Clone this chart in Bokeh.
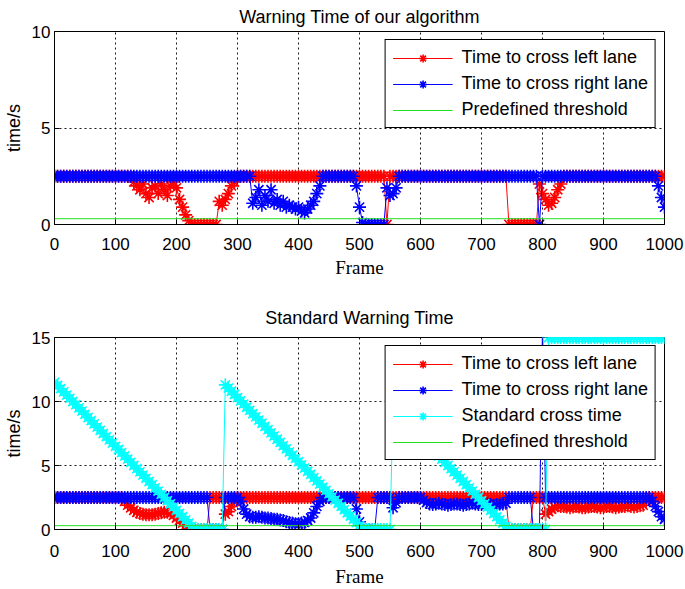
from bokeh.plotting import figure
from bokeh.models import Range1d, FixedTicker, Legend, LegendItem
from bokeh.layouts import column
from bokeh.embed import file_html
from bokeh.resources import INLINE

# ---------------- data ----------------
frames = list(range(0, 1001, 5))
x_ticks = list(range(0, 1001, 100))
top_y_ticks = [0, 5, 10]
bottom_y_ticks = [0, 5, 10, 15]
thr_frames = [0, 1000]
thr_values = [0.3, 0.3]

# Top chart: warning time of our algorithm
top_left = ([2.5] * 26
            + [2.2, 2.0, 1.8, 2.1, 1.6, 1.4, 1.9, 2.0, 1.6, 2.1, 1.8, 1.5, 2.0, 2.2, 1.9]
            + [1.3, 0.9, 0.5, 0.2]
            + [0.0] * 9
            + [1.2, 1.0, 1.3, 1.6, 2.0, 2.2]
            + [2.5] * 49
            + [0.0]
            + [2.5] * 39
            + [0.0] * 10
            + [2.1, 1.6, 1.3, 1.0, 1.1, 1.4, 1.8, 2.1]
            + [2.5] * 34)

top_right = ([2.5] * 65
             + [1.1, 1.4, 1.8, 1.0, 1.5, 1.2, 1.8, 1.1, 1.3, 1.0, 1.2, 0.9, 1.0, 0.9, 0.8,
                0.9, 0.7, 0.6, 0.8, 1.0, 1.2, 1.6, 2.0]
             + [2.5] * 11
             + [2.0, 0.9, 0.1]
             + [0.0] * 7
             + [1.9, 1.5, 1.6, 1.9]
             + [2.5] * 46
             + [0.0]
             + [2.5] * 38
             + [2.0, 1.4, 0.9])

# Bottom chart: standard warning time
bot_left = ([2.5] * 23
            + [2.2, 1.9, 1.7, 1.5, 1.35, 1.25, 1.2, 1.15, 1.15, 1.15, 1.2, 1.25, 1.3, 1.35, 1.35,
               1.3, 1.1, 0.9, 0.7, 0.5, 0.3, 0.1]
            + [0.0] * 6
            + [2.5] * 5
            + [1.2, 1.4, 1.8, 2.2]
            + [2.5] * 89
            + [0.0] * 8
            + [2.5] * 4
            + [1.2, 1.4, 1.6, 1.75, 1.85]
            + [1.8, 1.8, 1.75, 1.7, 1.75, 1.8, 1.75, 1.7, 1.7, 1.75, 1.8, 1.8, 1.75, 1.7,
               1.75, 1.8, 1.8, 1.75, 1.7, 1.75, 1.8, 1.8, 1.85, 1.8, 1.75, 1.8, 1.85, 1.9]
            + [2.2]
            + [2.5] * 6)

bot_right = ([2.5] * 51
             + [0.0] * 5
             + [2.5] * 5
             + [2.2, 1.6, 1.2, 1.0, 0.95, 0.95, 1.0, 0.95, 0.9, 0.9, 0.85, 0.8, 0.8, 0.75,
                0.7, 0.6, 0.55, 0.5, 0.45, 0.45, 0.5, 0.55, 0.7, 0.9, 1.3, 1.8, 2.2]
             + [2.5] * 11
             + [1.6, 0.6]
             + [0.0] * 5
             + [2.5] * 5
             + [1.7, 2.1]
             + [2.5] * 8
             + [2.3, 2.1, 2.0, 1.95, 2.0, 2.05, 2.0, 1.95, 1.9, 1.95, 2.0, 2.0, 1.95, 1.9,
                1.95, 2.0, 2.05, 2.0, 1.95, 1.95, 2.0, 2.0, 1.95, 1.9, 1.95, 2.0, 2.0, 2.05]
             + [2.5] * 8
             + [0.0] * 3
             + [16.0]
             + [2.5] * 35
             + [2.2, 1.8, 1.4, 1.0, 0.8])

bot_standard = ([11.5, 11.25, 11.0, 10.75, 10.5, 10.25, 10.0, 9.75, 9.5, 9.25, 9.0, 8.75,
                 8.5, 8.25, 8.0, 7.75, 7.5, 7.25, 7.0, 6.75, 6.5, 6.25, 6.0, 5.75, 5.5, 5.25,
                 5.0, 4.75, 4.5, 4.25, 4.0, 3.75, 3.5, 3.25, 3.0, 2.75, 2.5, 2.25, 2.0, 1.75,
                 1.5, 1.25, 1.0, 0.75, 0.5, 0.25]
                + [0.0] * 10
                + [11.3, 11.05, 10.8, 10.55, 10.3, 10.05, 9.8, 9.55, 9.3, 9.05, 8.8, 8.55,
                   8.3, 8.05, 7.8, 7.55, 7.3, 7.05, 6.8, 6.55, 6.3, 6.05, 5.8, 5.55, 5.3, 5.05,
                   4.8, 4.55, 4.3, 4.05, 3.8, 3.55, 3.3, 3.05, 2.8, 2.55, 2.3, 2.05, 1.8, 1.55,
                   1.3, 1.05, 0.8, 0.55, 0.3, 0.05]
                + [0.0] * 9
                + [9.5, 9.25, 9.0, 8.75, 8.5, 8.25, 8.0, 7.75, 7.5, 7.25, 7.0, 6.75, 6.5,
                   6.25, 6.0, 5.75, 5.5, 5.25, 5.0, 4.75, 4.5, 4.25, 4.0, 3.75, 3.5, 3.25, 3.0,
                   2.75, 2.5, 2.25, 2.0, 1.75, 1.5, 1.25, 1.0, 0.75, 0.5, 0.25]
                + [0.0] * 13
                + [15.0] * 39)

RED, BLUE, CYAN, GREEN = "#ff0000", "#0000ff", "#00ffff", "#22e022"
SANS = "Liberation Sans"


def make_fig(title, ymax, yticks, height, b_top, b_bottom, series,
             t_standoff, xl_standoff, xa_standoff):
    p = figure(width=685, height=height, x_range=Range1d(0, 1000), y_range=Range1d(0, ymax),
               output_backend="svg", toolbar_location=None,
               min_border_left=53, min_border_right=21,
               min_border_top=b_top, min_border_bottom=b_bottom)
    p.title.text = title
    p.title.align = "center"
    p.title.text_font = SANS
    p.title.text_font_size = "18px"
    p.title.text_font_style = "normal"
    p.title.text_color = "black"
    p.title.standoff = t_standoff

    p.xaxis.ticker = FixedTicker(ticks=x_ticks)
    p.yaxis.ticker = FixedTicker(ticks=yticks)
    for ax in (p.xaxis[0], p.yaxis[0]):
        ax.major_tick_in = 5
        ax.major_tick_out = 0
        ax.minor_tick_in = 0
        ax.minor_tick_out = 0
        ax.axis_line_color = "black"
        ax.major_tick_line_color = "black"
        ax.major_label_text_font = SANS
        ax.major_label_text_font_size = "17px"
        ax.major_label_text_color = "black"
        ax.axis_label_text_font_style = "normal"
        ax.axis_label_text_color = "black"
    p.xaxis.axis_label = "Frame"
    p.xaxis.axis_label_text_font = "Liberation Serif"
    p.xaxis.axis_label_text_font_size = "19px"
    p.xaxis.major_label_standoff = xl_standoff
    p.xaxis.axis_label_standoff = xa_standoff
    p.yaxis.axis_label = "time/s"
    p.yaxis.axis_label_text_font = SANS
    p.yaxis.axis_label_text_font_size = "18px"
    p.yaxis.major_label_standoff = 4
    p.yaxis.axis_label_standoff = 5

    p.grid.grid_line_color = "black"
    p.grid.grid_line_dash = "2 3"
    p.grid.grid_line_alpha = 0.9
    p.outline_line_color = "black"
    p.outline_line_alpha = 1

    items = []
    for vals, color, label in series:
        l = p.line(frames, vals, line_color=color, line_width=1)
        s = p.scatter(frames, vals, marker="asterisk", size=13, line_color=color,
                      line_width=1.6)
        items.append(LegendItem(label=label, renderers=[l, s]))
    g = p.line(thr_frames, thr_values, line_color=GREEN, line_width=1)
    items.append(LegendItem(label="Predefined threshold", renderers=[g]))

    legend = Legend(items=items, location="top_right", margin=8, padding=7, spacing=5,
                    label_height=20, glyph_height=20, glyph_width=60, label_standoff=9,
                    label_text_font=SANS, label_text_font_size="18px",
                    label_text_color="black",
                    border_line_color="black", border_line_width=1, border_line_alpha=1,
                    background_fill_color="white", background_fill_alpha=1)
    p.add_layout(legend)
    return p


p1 = make_fig("Warning Time of our algorithm", 10, top_y_ticks, 285, 31, 61,
              [(top_left, RED, "Time to cross left lane"),
               (top_right, BLUE, "Time to cross right lane")],
              9, 13, 4)
p2 = make_fig("Standard Warning Time", 15, bottom_y_ticks, 304, 52, 59,
              [(bot_left, RED, "Time to cross left lane"),
               (bot_right, BLUE, "Time to cross right lane"),
               (bot_standard, CYAN, "Standard cross time")],
              19, 15, 6)

layout = column(p1, p2)
open("out.html", "w").write(file_html(layout, INLINE))
